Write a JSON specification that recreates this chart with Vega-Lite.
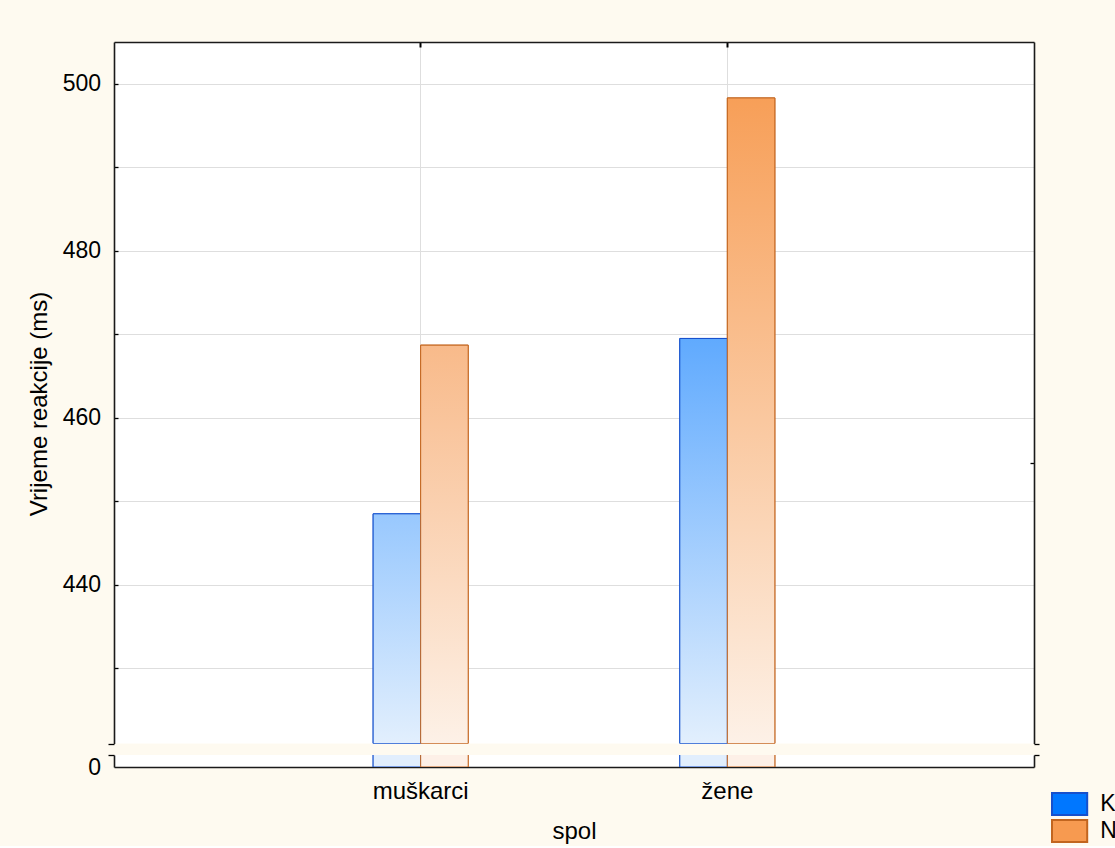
{
  "$schema": "https://vega.github.io/schema/vega-lite/v6.json",
  "background": "#fefaf0",
  "padding": {"left": 27, "top": 41, "right": 0, "bottom": 0},
  "config": {
    "font": "Liberation Sans",
    "view": {"stroke": null, "fill": "white"},
    "axis": {
      "labelFontSize": 23, "labelColor": "#000", "labelFont": "Liberation Sans",
      "titleFontSize": 24, "titleFontWeight": "normal", "titleColor": "#000", "titleFont": "Liberation Sans",
      "domainColor": "#1a1a1a", "domainWidth": 1.6,
      "tickColor": "#000", "tickWidth": 1.3,
      "gridColor": "#dedede", "gridWidth": 1
    },
    "legend": {"rowPadding": -6, "padding": 0, "symbolStrokeWidth": 2, "labelFontSize": 23, "labelColor": "#000"}
  },
  "data": {
    "values": [
      {"spol": "muškarci", "uvjet": "K", "rt": 448.5},
      {"spol": "muškarci", "uvjet": "N", "rt": 468.7},
      {"spol": "žene", "uvjet": "K", "rt": 469.5},
      {"spol": "žene", "uvjet": "N", "rt": 498.3}
    ]
  },
  "spacing": 9,
  "resolve": {"scale": {"y": "independent", "x": "shared", "fill": "shared", "stroke": "shared"}},
  "vconcat": [
    {
      "width": 920,
      "height": 701.5,
      "layer": [
        {
          "mark": {"type": "bar", "clip": true, "strokeWidth": 1},
          "encoding": {
            "x": {
              "field": "spol", "type": "nominal", "sort": ["muškarci", "žene"],
              "scale": {"paddingInner": 0.69, "paddingOuter": 0.845},
              "axis": {"orient": "top", "labels": false, "title": null, "tickSize": -5, "tickWidth": 2, "grid": true, "bandPosition": 0.5, "domain": true, "ticks": true}
            },
            "xOffset": {"field": "uvjet", "type": "nominal", "sort": ["K", "N"], "scale": {"paddingInner": 0, "paddingOuter": 0}},
            "y": {
              "field": "rt", "type": "quantitative",
              "scale": {"domain": [421, 505], "nice": false, "zero": false},
              "axis": {
                "orient": "left",
                "values": [421, 430, 440, 450, 460, 470, 480, 490, 500],
                "labelExpr": "datum.value % 20 === 0 ? datum.label : ''",
                "tickSize": {"condition": {"test": "datum.value === 421", "value": 6}, "value": -4},
                "labelPadding": 17.5,
                "grid": true,
                "gridOpacity": {"condition": {"test": "datum.value === 421", "value": 0}, "value": 1},
                "title": "Vrijeme reakcije (ms)",
                "titlePadding": 11,
                "titleY": 361.5
              }
            },
            "y2": {"datum": 421},
            "fill": {
              "field": "uvjet", "type": "nominal",
              "scale": {"domain": ["K", "N"], "range": ["#0077ff", "#f79a50"]},
              "legend": {"orient": "none", "legendX": 943.6, "legendY": 750, "title": null, "symbolType": "M-1.6,-1L1.6,-1L1.6,1L-1.6,1Z", "symbolSize": 484, "symbolStrokeWidth": 2, "symbolOpacity": 1, "labelFontSize": 23, "labelColor": "#000", "labelOffset": 18.6, "rowPadding": -6, "padding": 0}
            },
            "stroke": {
              "field": "uvjet", "type": "nominal",
              "scale": {"domain": ["K", "N"], "range": ["#1650cc", "#c2651f"]},
              "legend": {"orient": "none", "legendX": 943.6, "legendY": 750, "title": null, "symbolType": "M-1.6,-1L1.6,-1L1.6,1L-1.6,1Z", "symbolSize": 484, "symbolStrokeWidth": 2, "symbolOpacity": 1, "labelFontSize": 23, "labelColor": "#000", "labelOffset": 18.6, "rowPadding": -6, "padding": 0}
            }
          }
        },
        {
          "mark": {"type": "bar", "clip": true, "strokeWidth": 1},
          "encoding": {
            "x": {"field": "spol", "type": "nominal", "sort": ["muškarci", "žene"]},
            "xOffset": {"field": "uvjet", "type": "nominal", "sort": ["K", "N"]},
            "y": {
              "field": "rt", "type": "quantitative",
              "axis": {
                "orient": "right", "values": [421, 454.6], "labels": false, "title": null, "grid": false,
                "tickSize": {"condition": {"test": "datum.value === 421", "value": 5}, "value": -4}
              }
            },
            "y2": {"datum": 421},
            "fill": {
              "condition": [
                {"test": "datum.spol === 'muškarci' && datum.uvjet === 'K'", "value": {"gradient": "linear", "x1": 0, "y1": 0, "x2": 0, "y2": 1, "stops": [{"offset": 0, "color": "#98c8fe"}, {"offset": 1, "color": "#e2effd"}]}},
                {"test": "datum.spol === 'muškarci' && datum.uvjet === 'N'", "value": {"gradient": "linear", "x1": 0, "y1": 0, "x2": 0, "y2": 1, "stops": [{"offset": 0, "color": "#f8ba8a"}, {"offset": 1, "color": "#fdf1e7"}]}},
                {"test": "datum.spol === 'žene' && datum.uvjet === 'K'", "value": {"gradient": "linear", "x1": 0, "y1": 0, "x2": 0, "y2": 1, "stops": [{"offset": 0, "color": "#60aafe"}, {"offset": 1, "color": "#e2effd"}]}}
              ],
              "value": {"gradient": "linear", "x1": 0, "y1": 0, "x2": 0, "y2": 1, "stops": [{"offset": 0, "color": "#f79f58"}, {"offset": 1, "color": "#fdf1e7"}]}
            },
            "stroke": {"field": "uvjet", "type": "nominal", "legend": null}
          }
        }
      ],
      "resolve": {"axis": {"y": "independent"}}
    },
    {
      "width": 920,
      "height": 12,
      "layer": [
        {
          "mark": {"type": "bar", "clip": true, "strokeWidth": 1},
          "encoding": {
            "x": {
              "field": "spol", "type": "nominal", "sort": ["muškarci", "žene"],
              "axis": {"orient": "bottom", "title": "spol", "labelFontSize": 24, "tickSize": -4, "labelPadding": 16.5, "titlePadding": 16, "grid": false, "bandPosition": 0.5, "labelAngle": 0}
            },
            "xOffset": {"field": "uvjet", "type": "nominal", "sort": ["K", "N"]},
            "y": {
              "field": "rt", "type": "quantitative",
              "scale": {"domain": [0, 1.5], "nice": false, "zero": true},
              "axis": {
                "orient": "left", "values": [0, 1.5],
                "labelExpr": "datum.value === 0 ? '0' : ''",
                "tickSize": {"condition": {"test": "datum.value === 0", "value": 0}, "value": 6},
                "labelPadding": 13.5, "grid": false, "title": null
              }
            },
            "y2": {"datum": 0},
            "fill": {"condition": {"test": "datum.uvjet === 'K'", "value": "#e1eefd"}, "value": "#fdf0e7"},
            "stroke": {"field": "uvjet", "type": "nominal", "legend": null}
          }
        },
        {
          "mark": {"type": "bar", "clip": true, "strokeWidth": 1},
          "encoding": {
            "x": {"field": "spol", "type": "nominal", "sort": ["muškarci", "žene"]},
            "xOffset": {"field": "uvjet", "type": "nominal", "sort": ["K", "N"]},
            "y": {
              "field": "rt", "type": "quantitative",
              "axis": {"orient": "right", "values": [1.5], "labels": false, "title": null, "grid": false, "tickSize": 5}
            },
            "y2": {"datum": 0},
            "fill": {"condition": {"test": "datum.uvjet === 'K'", "value": "#e1eefd"}, "value": "#fdf0e7"},
            "stroke": {"field": "uvjet", "type": "nominal", "legend": null}
          }
        }
      ],
      "resolve": {"axis": {"y": "independent"}}
    }
  ]
}
